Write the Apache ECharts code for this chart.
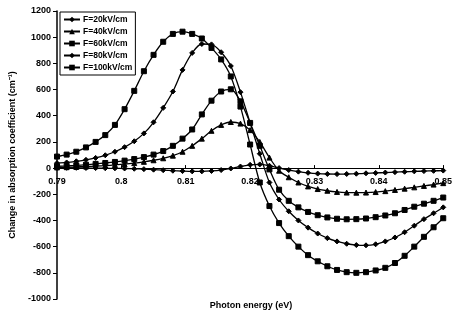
<!DOCTYPE html>
<html>
<head>
<meta charset="utf-8">
<script src="https://cdn.jsdelivr.net/npm/echarts@6/dist/echarts.min.js"></script>
<style>
  html, body { margin: 0; padding: 0; background: #fff; }
  #chart { width: 455px; height: 322px; }
</style>
</head>
<body>
<div id="chart"></div>
<script>
// Photon energy samples (eV)
var energy = [0.79,0.7915,0.793,0.7945,0.796,0.7975,0.799,0.8005,0.802,0.8035,0.805,0.8065,0.808,0.8095,0.811,0.8125,0.814,0.8155,0.817,0.8185,0.82,0.8215,0.823,0.8245,0.826,0.8275,0.829,0.8305,0.832,0.8335,0.835,0.8365,0.838,0.8395,0.841,0.8425,0.844,0.8455,0.847,0.8485,0.85];

// Change in absorption coefficient (cm^-1) for each applied field
var f20  = [2,2,2,1,0,-1,-2,-3,-5,-8,-12,-16,-20,-23,-25,-25,-22,-15,-3,12,25,28,18,0,-15,-27,-36,-42,-45,-46,-45,-43,-40,-37,-34,-31,-28,-25,-23,-21,-19];
var f40  = [5,7,9,12,15,19,24,30,38,48,60,75,95,125,170,225,285,330,352,340,290,200,80,-20,-70,-110,-140,-160,-173,-182,-187,-188,-187,-183,-176,-167,-157,-147,-136,-126,-115];
var f60  = [14,17,21,26,32,39,47,57,69,84,103,130,170,225,295,410,515,585,602,510,345,170,-10,-165,-250,-300,-335,-360,-377,-387,-391,-390,-385,-375,-362,-345,-320,-295,-272,-250,-225];
var f80  = [38,43,52,63,78,98,125,160,205,265,350,460,585,750,880,948,945,885,780,580,345,110,-110,-240,-330,-400,-455,-500,-535,-560,-578,-588,-590,-582,-560,-530,-490,-440,-390,-345,-300];
var f100 = [88,103,125,158,200,252,330,450,590,740,865,965,1025,1042,1025,990,918,830,700,470,180,-110,-290,-420,-520,-600,-665,-712,-750,-778,-795,-800,-795,-782,-762,-725,-670,-600,-525,-452,-383];

var seriesNames = ['F=20kV/cm','F=40kV/cm','F=60kV/cm','F=80kV/cm','F=100kV/cm'];
var seriesValues = [f20, f40, f60, f80, f100];
var seriesSymbols = ['diamond','triangle','rect','diamond','rect'];

var Y_MIN = -1000, Y_MAX = 1200;
var GRID_TOP = 11, GRID_BOTTOM = 23, CHART_H = 322;

var FONT = 'Liberation Sans, Arial, sans-serif';

function pairs(vals) {
  return energy.map(function (e, i) { return [e, vals[i]]; });
}

// Energy axis sits on the zero line: shift it up from the grid bottom
var plotH = CHART_H - GRID_TOP - GRID_BOTTOM;
var zeroOffset = -plotH * (0 - Y_MIN) / (Y_MAX - Y_MIN);

var chart = echarts.init(document.getElementById('chart'), null, { renderer: 'canvas' });

chart.setOption({
  animation: false,
  backgroundColor: '#fff',
  grid: { left: 57, right: 10, top: GRID_TOP, bottom: GRID_BOTTOM, containLabel: false },
  legend: {
    orient: 'vertical',
    left: 60,
    top: 12,
    data: seriesNames,
    borderColor: '#000',
    borderWidth: 1,
    padding: [3, 3, 3, 3],
    itemGap: 3,
    itemWidth: 16,
    itemHeight: 7,
    textStyle: { fontFamily: FONT, fontWeight: 'bold', fontSize: 8.5, color: '#000', padding: [0, 0, 0, -2] }
  },
  xAxis: {
    type: 'value',
    position: 'bottom',
    offset: zeroOffset,
    min: 0.79,
    max: 0.85,
    interval: 0.01,
    axisLine: { onZero: false, lineStyle: { color: '#000', width: 1.2 } },
    axisTick: { inside: true, length: 3, lineStyle: { color: '#000' } },
    axisLabel: {
      color: '#000', fontFamily: FONT, fontWeight: 'bold', fontSize: 9, margin: 9,
      formatter: function (v) { return String(Math.round(v * 100) / 100); }
    },
    splitLine: { show: false }
  },
  yAxis: {
    type: 'value',
    min: Y_MIN,
    max: Y_MAX,
    interval: 200,
    name: 'Change in absorption coefficient (cm\u207B\u00B9)',
    nameLocation: 'middle',
    nameGap: 40,
    nameTextStyle: { color: '#000', fontFamily: FONT, fontWeight: 'bold', fontSize: 9 },
    axisLine: { show: true, onZero: false, lineStyle: { color: '#000', width: 1.5 } },
    axisTick: { show: true, length: 4, lineStyle: { color: '#000' } },
    axisLabel: {
      color: '#000', fontFamily: FONT, fontWeight: 'bold', fontSize: 9, margin: 6,
      formatter: function (v) { return String(v); }
    },
    splitLine: { show: false }
  },
  graphic: [{
    type: 'text',
    x: 251,
    y: 306,
    style: {
      text: 'Photon energy (eV)',
      fill: '#000',
      font: 'bold 9px ' + FONT,
      align: 'center',
      verticalAlign: 'middle',
      textAlign: 'center',
      textVerticalAlign: 'middle'
    }
  }],
  series: seriesNames.map(function (name, k) {
    return {
      name: name,
      type: 'line',
      data: pairs(seriesValues[k]),
      smooth: 0.3,
      symbol: seriesSymbols[k],
      symbolSize: 5,
      showAllSymbol: true,
      lineStyle: { color: '#000', width: 1.3 },
      itemStyle: { color: '#000', borderColor: '#000' }
    };
  })
});
</script>
</body>
</html>
